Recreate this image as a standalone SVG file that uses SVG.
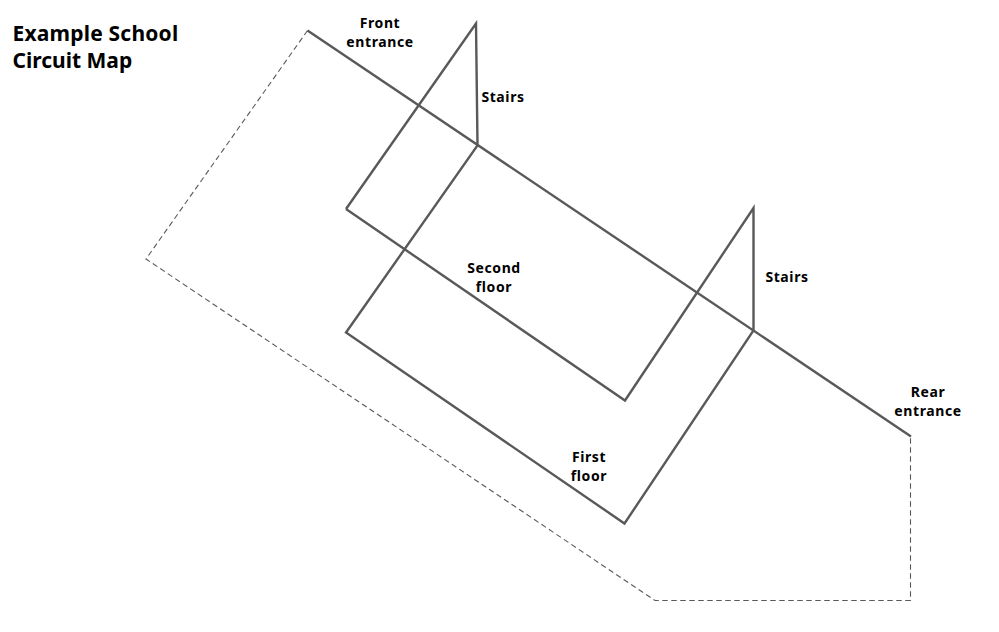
<svg xmlns="http://www.w3.org/2000/svg" width="999" height="632" viewBox="0 0 999 632">
<style>
.s{fill:none;stroke:#595959;stroke-width:2.4;stroke-linejoin:miter}
.d{fill:none;stroke:#595959;stroke-width:1.1;stroke-dasharray:5.500 3.500}
text{font-family:"Noto Sans","Open Sans",sans-serif;font-weight:700;fill:#000;text-anchor:middle}
.l{font-size:14px;letter-spacing:.6px}
.t{font-size:21px;text-anchor:start}
</style>
<rect width="999" height="632" fill="#fff"/>
<g id="connectors">
<path class="s" d="M307.500 30.500L911 436.500"/>
<path class="s" d="M346 209L476 23.500L477.500 145.500L346 332.500L624.500 523.500L753.500 330.500L753.500 208L625 400.500L346 209"/>
<path class="d" d="M307.500 30.500L146 259L655 600.500L910.500 600.500L910.500 436.500"/>
</g>
<g id="title"><text class="t" x="12.500" y="41" letter-spacing=".2">Example School</text><text class="t" x="12.500" y="68">Circuit Map</text></g>
<g id="front-entrance"><text class="l" x="380" y="28">Front</text><text class="l" x="380" y="47">entrance</text></g>
<g id="stairs-1"><text class="l" x="503" y="102">Stairs</text></g>
<g id="second-floor"><text class="l" x="494" y="273">Second</text><text class="l" x="494" y="292">floor</text></g>
<g id="stairs-2"><text class="l" x="787" y="282">Stairs</text></g>
<g id="first-floor"><text class="l" x="589" y="462">First</text><text class="l" x="589" y="481">floor</text></g>
<g id="rear-entrance"><text class="l" x="928" y="397">Rear</text><text class="l" x="928" y="416">entrance</text></g>
</svg>
